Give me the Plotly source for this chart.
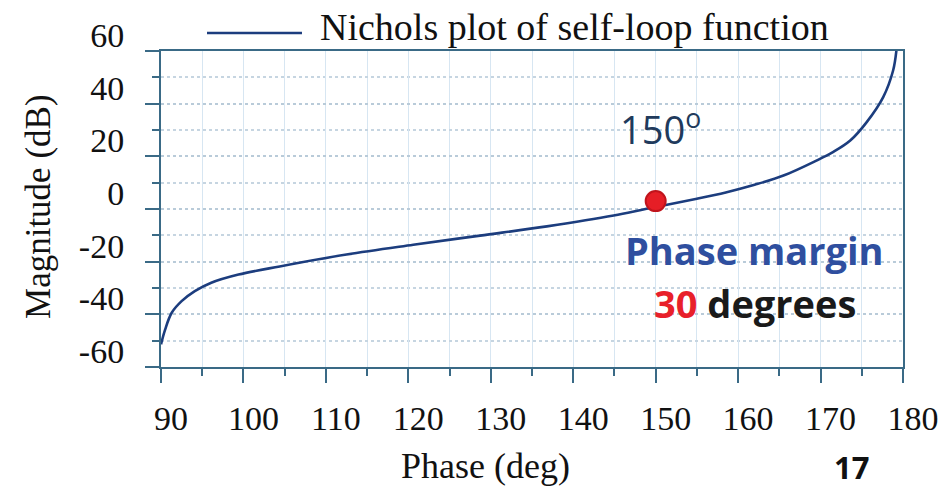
import plotly.graph_objects as go

# Nichols curve of the self-loop function: phase (deg) vs magnitude (dB)
phase_deg = [90.0, 90.5, 91.3, 92.5, 94.1, 96.1, 99.4, 104.4, 112.5, 120.6,
             128.7, 136.8, 144.9, 148.9, 155.0, 158.5, 162.0, 165.5, 169.5,
             171.5, 173.6, 175.6, 177.6, 178.8, 179.2]
magnitude_db = [-51.4, -45.8, -39.4, -35.0, -31.2, -28.0, -24.9, -21.8, -17.3,
                -13.6, -10.1, -6.6, -2.5, 0.1, 3.9, 6.3, 9.2, 12.7, 18.4,
                21.6, 26.0, 33.0, 42.5, 52.6, 60.2]

# Gain-crossover point (phase margin 30 deg)
crossover_phase = [150]
crossover_mag = [3.0]

x_ticks = [90, 100, 110, 120, 130, 140, 150, 160, 170, 180]
y_ticks = [60, 40, 20, 0, -20, -40, -60]

SERIF = "Liberation Serif, Times New Roman, serif"
SANS = "Open Sans, Noto Sans, sans-serif"
AXIS_COLOR = "#3a6a86"
CURVE_COLOR = "#1c3d7e"

fig = go.Figure()

fig.add_trace(go.Scatter(
    x=phase_deg, y=magnitude_db, mode="lines",
    line=dict(color=CURVE_COLOR, width=2.6, shape="spline", smoothing=1.0),
    name="Nichols plot of self-loop function", showlegend=False,
))

fig.add_trace(go.Scatter(
    x=crossover_phase, y=crossover_mag, mode="markers",
    marker=dict(size=20, color="#e61e26", line=dict(color="#c0141c", width=2)),
    showlegend=False, cliponaxis=False,
))

fig.update_xaxes(
    range=[90, 180], tickvals=x_ticks, ticktext=[str(v) for v in x_ticks],
    showline=True, linecolor=AXIS_COLOR, linewidth=2, mirror=True,
    ticks="outside", ticklen=14, tickwidth=1.5, tickcolor=AXIS_COLOR,
    tickfont=dict(family=SERIF, size=34, color="#111111"),
    ticklabelshift=10, ticklabelstandoff=6,
    showgrid=True, gridcolor="#d7e6f2", gridwidth=1,
    zeroline=False,
    minor=dict(dtick=5, ticks="outside", ticklen=7, tickcolor=AXIS_COLOR,
               showgrid=True, gridcolor="#d7e6f2", gridwidth=1),
)

fig.update_yaxes(
    range=[-60, 60], tickvals=y_ticks, ticktext=[str(v) for v in y_ticks],
    showline=True, linecolor=AXIS_COLOR, linewidth=2, mirror=True,
    ticks="outside", ticklen=14, tickwidth=1.5, tickcolor=AXIS_COLOR,
    tickfont=dict(family=SERIF, size=34, color="#111111"),
    ticklabelshift=-16, ticklabelstandoff=14,
    showgrid=True, gridcolor="#b9cbd9", gridwidth=1.5, griddash="dot",
    zeroline=False,
    minor=dict(dtick=10, ticks="outside", ticklen=7, tickcolor=AXIS_COLOR,
               showgrid=True, gridcolor="#c6d5e1", gridwidth=1.5, griddash="dot"),
)

# Legend entry drawn as a long line sample with its label
fig.add_shape(type="line", xref="paper", yref="paper",
              x0=0.062, x1=0.190, y0=1.057, y1=1.057,
              line=dict(color=CURVE_COLOR, width=2.6))

annotations = [
    dict(text="Nichols plot of self-loop function", xref="paper", yref="paper",
         x=0.2116, y=1.076, xanchor="left", yanchor="middle",
         font=dict(family=SERIF, size=38, color="#111111")),
    dict(text="Magnitude (dB)", xref="paper", yref="paper",
         x=-0.166, y=0.509, textangle=-90, xanchor="center", yanchor="middle",
         font=dict(family=SERIF, size=35, color="#111111")),
    dict(text="Phase (deg)", xref="paper", yref="paper",
         x=0.4367, y=-0.313, xanchor="center", yanchor="middle",
         font=dict(family=SERIF, size=36, color="#111111")),
    dict(text="150<sup>o</sup>", xref="x", yref="y",
         x=145.4, y=31.1, xanchor="left", yanchor="middle",
         font=dict(family=SANS, size=38, color="#203a5c")),
    dict(text="<b>Phase margin</b>", xref="x", yref="y",
         x=162.0, y=-15.6, xanchor="center", yanchor="middle",
         font=dict(family=SANS, size=38, color="#2f4f9f")),
    dict(text="<b><span style='color:#e8202a'>30</span> degrees</b>",
         xref="x", yref="y", x=162.0, y=-35.7, xanchor="center", yanchor="middle",
         font=dict(family=SANS, size=38, color="#1a1a1a")),
    dict(text="<b>17</b>", xref="paper", yref="paper",
         x=0.931, y=-0.39, xanchor="center", yanchor="bottom",
         font=dict(family=SANS, size=31, color="#111111")),
]
for a in annotations:
    a["showarrow"] = False
fig.update_layout(annotations=annotations)

fig.update_layout(
    width=950, height=491,
    margin=dict(l=161, r=47, t=51, b=124),
    paper_bgcolor="white", plot_bgcolor="white",
    showlegend=False,
)

fig.write_html("out.html")
